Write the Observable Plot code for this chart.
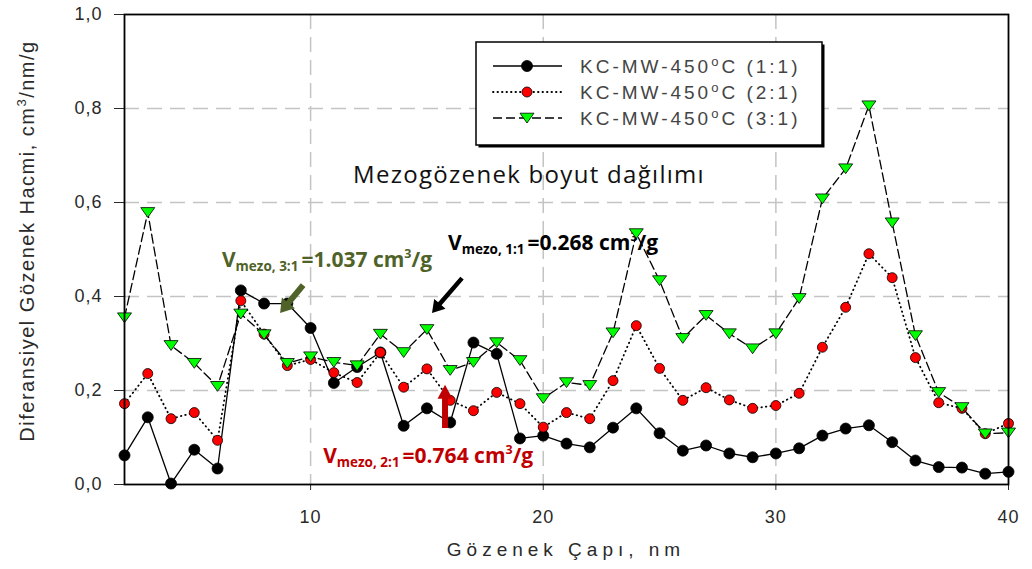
<!DOCTYPE html>
<html><head><meta charset="utf-8">
<script src="https://cdn.jsdelivr.net/npm/d3@7"></script>
<script src="https://cdn.jsdelivr.net/npm/@observablehq/plot@0.6"></script>
<style>body{margin:0;background:#fff;overflow:hidden}</style>
</head><body><div id="chart"></div>
<script>
// ---- data ----
const poreSize = [2,3,4,5,6,7,8,9,10,11,12,13,14,15,16,17,18,19,20,21,22,23,24,25,26,27,28,29,30,31,32,33,34,35,36,37,38,39,40];
const v11 = [0.062,0.143,0.002,0.074,0.034,0.413,0.385,0.385,0.333,0.216,0.250,0.281,0.125,0.162,0.132,0.302,0.278,0.098,0.104,0.087,0.079,0.121,0.162,0.109,0.072,0.083,0.066,0.058,0.066,0.077,0.104,0.119,0.126,0.090,0.051,0.037,0.036,0.023,0.027];
const v21 = [0.172,0.236,0.140,0.153,0.094,0.391,0.320,0.253,0.266,0.238,0.217,0.281,0.207,0.246,0.179,0.157,0.196,0.172,0.122,0.153,0.140,0.221,0.338,0.247,0.179,0.206,0.180,0.162,0.168,0.194,0.292,0.377,0.491,0.440,0.270,0.174,0.162,0.108,0.130];
const v31 = [0.355,0.579,0.296,0.258,0.209,0.363,0.319,0.258,0.272,0.260,0.253,0.320,0.281,0.330,0.243,0.260,0.302,0.264,0.183,0.217,0.211,0.323,0.534,0.434,0.311,0.360,0.321,0.289,0.321,0.396,0.608,0.672,0.806,0.557,0.317,0.196,0.164,0.108,0.110];
const seriesRatio = ["1:1","2:1","3:1"];
const xTicks = [10,20,30,40];
const yTicks = [0,0.2,0.4,0.6,0.8,1.0];
const xGrid = [10,20,30];
const yGrid = [0.2,0.4,0.6,0.8];
const xTitle = "Gözenek Çapı, nm";
const yTitle = ["Diferansiyel Gözenek Hacmi, cm","3","/nm/g"];
const chartNote = "Mezogözenek boyut dağılımı";
const notes = [
  {x:6.21, y:0.462, color:"#4f6228", sub:"mezo, 3:1", val:"=1.037 cm", ax1:9.70, ay1:0.423, ax2:8.71, ay2:0.364},
  {x:15.93, y:0.498, color:"#000000", sub:"mezo, 1:1", val:"=0.268 cm", ax1:16.53, ay1:0.438, ax2:15.24, ay2:0.364},
  {x:10.56, y:0.045, color:"#c00000", sub:"mezo, 2:1", val:"=0.764 cm", ax1:15.80, ay1:0.119, ax2:15.80, ay2:0.211}
];

const d11 = poreSize.map((x,i)=>({x, y:v11[i]}));
const d21 = poreSize.map((x,i)=>({x, y:v21[i]}));
const d31 = poreSize.map((x,i)=>({x, y:v31[i]}));

const downTri = {draw(ctx, size){ const r=Math.sqrt(size/Math.PI); ctx.moveTo(-r,-0.68*r); ctx.lineTo(r,-0.68*r); ctx.lineTo(0,0.72*r); ctx.closePath(); }};

const plot = Plot.plot({
  width:1032, height:569, marginLeft:124, marginRight:24, marginTop:14, marginBottom:85,
  style:{fontFamily:"'Liberation Sans', Arial, sans-serif", fontSize:"18px", color:"#2a2a2a", background:"#fff", overflow:"visible"},
  x:{domain:[2,40], ticks:xTicks, tickSize:6, tickPadding:20, label:null, tickFormat:d=>String(d)},
  y:{domain:[0,1], ticks:yTicks, tickSize:10, tickPadding:12, label:null, tickFormat:d=>d.toFixed(1).replace(".",",")},
  marks:[
    Plot.ruleX(xGrid, {stroke:"#c4c4c4", strokeWidth:1.5, strokeDasharray:"15,8"}),
    Plot.ruleY(yGrid, {stroke:"#c4c4c4", strokeWidth:1.5, strokeDasharray:"15,8"}),
    Plot.line(d11, {x:"x", y:"y", stroke:"black", strokeWidth:1.3}),
    Plot.dot(d11, {x:"x", y:"y", r:5.5, fill:"black", stroke:"black", strokeWidth:0.8, symbol:"circle"}),
    Plot.line(d21, {x:"x", y:"y", stroke:"black", strokeWidth:1.8, strokeDasharray:"0.5,4", strokeLinecap:"round"}),
    Plot.dot(d21, {x:"x", y:"y", r:5, fill:"#ff0000", stroke:"black", strokeWidth:0.8, symbol:"circle"}),
    Plot.line(d31, {x:"x", y:"y", stroke:"black", strokeWidth:1.3, strokeDasharray:"9,4"}),
    Plot.dot(d31, {x:"x", y:"y", r:7, fill:"#00ff00", stroke:"black", strokeWidth:0.8, symbol:downTri}),
    Plot.frame({stroke:"black", strokeWidth:1.8})
  ]
});
document.getElementById("chart").appendChild(plot);

const svg = d3.select(plot);
svg.selectAll("g[aria-label='x-axis tick label'] text, g[aria-label='y-axis tick label'] text").attr("letter-spacing","1px").attr("fill","#2a2a2a");
const sx = plot.scale("x"), sy = plot.scale("y");
const X = v => sx.apply(v), Y = v => sy.apply(v);

// annotation text (beneath series)
const ann = svg.insert("g", "g[aria-label='line']").attr("font-family","'Open Sans', 'Liberation Sans', sans-serif").attr("text-anchor","start");
ann.append("text").attr("x", X(19.41)).attr("y", Y(0.640)).attr("text-anchor","middle")
  .attr("font-size","24px").attr("letter-spacing","1.3px").attr("fill","#111").text(chartNote);
notes.forEach(n=>{
  const t = ann.append("text").attr("x", X(n.x)).attr("y", Y(n.y)).attr("text-anchor","start").attr("fill", n.color).attr("font-weight","bold").attr("font-size","21px");
  t.append("tspan").text("V");
  t.append("tspan").attr("font-size","13.5px").attr("dy","4").text(n.sub);
  t.append("tspan").attr("dy","-4").attr("dx","3").text(n.val);
  t.append("tspan").attr("font-size","12.5px").attr("dy","-9").text("3");
  t.append("tspan").attr("dy","9").text("/g");
});

// legend
const lx0 = 476, ly0 = 42, lw = 346, lh = 103;
const leg = svg.append("g").attr("text-anchor","start");
leg.append("rect").attr("x",lx0+2.5).attr("y",ly0+2.5).attr("width",lw).attr("height",lh).attr("fill","#000");
leg.append("rect").attr("x",lx0).attr("y",ly0).attr("width",lw).attr("height",lh).attr("fill","#fff").attr("stroke","#000").attr("stroke-width",1.5);
const styles = [
  {dash:null, w:1.3, marker:"circle", fill:"#000"},
  {dash:"0.5,4", w:1.8, marker:"circle", fill:"#ff0000"},
  {dash:"9,4", w:1.3, marker:"tri", fill:"#00ff00"}
];
seriesRatio.forEach((ratio,i)=>{
  const yy = 66 + i*26, s = styles[i];
  const ln = leg.append("line").attr("x1",493).attr("x2",562).attr("y1",yy).attr("y2",yy).attr("stroke","#000").attr("stroke-width",s.w).attr("stroke-linecap", s.dash && s.dash.startsWith("0.5") ? "round":"butt");
  if (s.dash) ln.attr("stroke-dasharray", s.dash);
  if (s.marker==="circle") leg.append("circle").attr("cx",527).attr("cy",yy).attr("r", i===0?5.5:5).attr("fill",s.fill).attr("stroke","#000").attr("stroke-width",0.8);
  else leg.append("path").attr("d",`M${527-7},${yy-4.8}L${527+7},${yy-4.8}L527,${yy+5}Z`).attr("fill",s.fill).attr("stroke","#000").attr("stroke-width",0.8);
  const t = leg.append("text").attr("x",580).attr("y",yy).attr("dy","0.36em").attr("text-anchor","start").attr("font-size","19px").attr("letter-spacing","3px").attr("fill","#444").attr("font-family","'Liberation Sans', Arial, sans-serif");
  t.append("tspan").text("KC-MW-450");
  t.append("tspan").attr("font-size","13px").attr("dy","-7").text("o");
  t.append("tspan").attr("dy","7").text(`C (${ratio})`);
});

// arrows (on top)
function blockArrow(x1,y1,x2,y2,w,hw,hl,color){
  const dx=x2-x1, dy=y2-y1, L=Math.hypot(dx,dy), ux=dx/L, uy=dy/L, nx=-uy, ny=ux;
  const bx=x2-ux*hl, by=y2-uy*hl;
  const pts=[[x1+nx*w/2,y1+ny*w/2],[bx+nx*w/2,by+ny*w/2],[bx+nx*hw/2,by+ny*hw/2],[x2,y2],[bx-nx*hw/2,by-ny*hw/2],[bx-nx*w/2,by-ny*w/2],[x1-nx*w/2,y1-ny*w/2]];
  svg.append("polygon").attr("points",pts.map(p=>p.join(",")).join(" ")).attr("fill",color);
}
const arrowW = [[6,17,13],[4.5,15,12],[6,15,14]];
notes.forEach((n,i)=>blockArrow(X(n.ax1),Y(n.ay1),X(n.ax2),Y(n.ay2),arrowW[i][0],arrowW[i][1],arrowW[i][2],n.color));

// axis titles
svg.append("text").attr("x", X(21.0)).attr("y", 556).attr("text-anchor","middle").attr("font-size","19px").attr("letter-spacing","5px").attr("fill","#2a2a2a").text(xTitle);
const yt = svg.append("text").attr("transform","translate(34,241) rotate(-90)").attr("text-anchor","middle").attr("font-size","20px").attr("letter-spacing","1.5px").attr("fill","#2a2a2a");
yt.append("tspan").text(yTitle[0]);
yt.append("tspan").attr("font-size","13px").attr("dy","-8").text(yTitle[1]);
yt.append("tspan").attr("dy","8").text(yTitle[2]);
</script></body></html>
